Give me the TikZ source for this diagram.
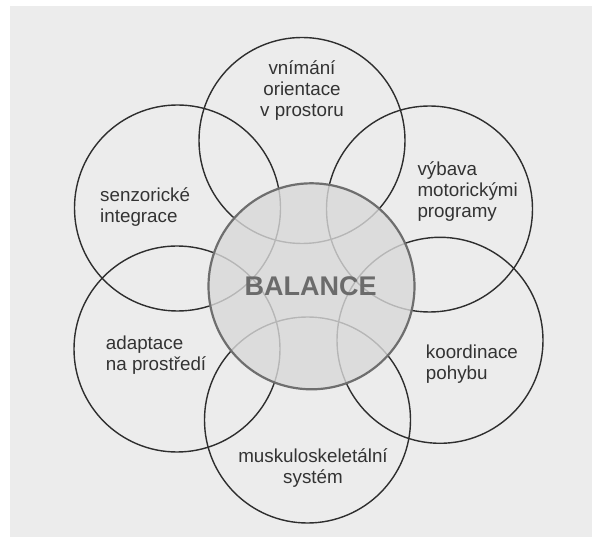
\documentclass[tikz,border=0pt]{standalone}
\usepackage{fontspec}
\setmainfont{Liberation Sans}
\usepackage{tikz}
\definecolor{bggray}{HTML}{ECECEC}
\definecolor{linegray}{HTML}{2E2E2E}
\definecolor{rimgray}{HTML}{6E6E6E}
\definecolor{fillgray}{HTML}{D9D9D9}
\definecolor{textgray}{HTML}{333333}
\definecolor{biggray}{HTML}{6B6B6B}

\begin{document}
\begin{tikzpicture}[x=1pt, y=-1pt,
    ring/.style={circle, draw=linegray, line width=1.4pt, minimum size=206pt, inner sep=0pt},
    hub/.style={circle, draw=rimgray, line width=2.2pt, fill=fillgray, fill opacity=0.8, text opacity=1, minimum size=206pt, inner sep=0pt},
    txt/.style={text=textgray, inner sep=0pt, font=\fontsize{18.8}{21}\selectfont}]
  \useasboundingbox (0,0) rectangle (592,537);
  \fill[white] (0,0) rectangle (592,537);
  \fill[bggray] (10,6) rectangle (592,537);

  \node[ring]                 (vnimani)  at (302,140.5)   {};
  \node[ring]                 (senzor)   at (177.5,208)   {};
  \node[ring]                 (vybava)   at (429.5,209)   {};
  \node[ring]                 (adapt)    at (177,349)     {};
  \node[ring]                 (koord)    at (440,340.3)   {};
  \node[ring]                 (muskulo)  at (307.5,420)   {};
  \node[hub]                  (balance)  at (311.5,286.3) {};

  \node[text=biggray, inner sep=0pt, anchor=base, font=\fontsize{27}{30}\selectfont\bfseries]
                              (baltxt)   at (310.7,295.2) {BALANCE};

  \node[txt, anchor=base, align=center]      (t1) at (302,116.8)   {vnímání\\orientace\\v prostoru};
  \node[txt, anchor=base west, align=left]   (t2) at (100,222.3)   {senzorické\\integrace};
  \node[txt, anchor=base west, align=left]   (t3) at (417.3,218)   {výbava\\motorickými\\programy};
  \node[txt, anchor=base west, align=left]   (t4) at (105.7,371)   {adaptace\\na prostředí};
  \node[txt, anchor=base west, align=left]   (t5) at (425.7,379.3) {koordinace\\pohybu};
  \node[txt, anchor=base, align=center]      (t6) at (313,483.3)   {muskuloskeletální\\systém};
\end{tikzpicture}
\end{document}
